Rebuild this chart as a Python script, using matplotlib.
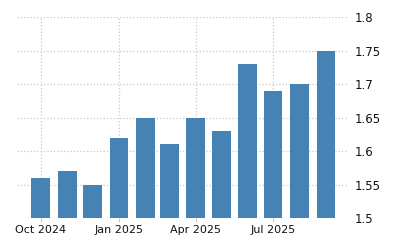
import pandas as pd
import numpy as np
import matplotlib
matplotlib.use('Agg')
import matplotlib.pyplot as plt
import matplotlib.dates as mdates

months = ['2024-10', '2024-11', '2024-12', '2025-01', '2025-02', '2025-03',
          '2025-04', '2025-05', '2025-06', '2025-07', '2025-08', '2025-09']
values = [1.56, 1.57, 1.55, 1.62, 1.65, 1.61, 1.65, 1.63, 1.73, 1.69, 1.70, 1.75]
yticks = [1.5, 1.55, 1.6, 1.65, 1.7, 1.75, 1.8]
ytick_labels = ['1.5', '1.55', '1.6', '1.65', '1.7', '1.75', '1.8']
xtick_dates = ['2024-10-01', '2025-01-01', '2025-04-01', '2025-07-01']
xtick_labels = ['Oct 2024', 'Jan 2025', 'Apr 2025', 'Jul 2025']

dates = pd.to_datetime(months)

fig = plt.figure(figsize=(4, 2.5), dpi=100)
ax = fig.add_axes([0.0425, 0.128, 0.8275, 0.804])

ax.bar(dates, values, width=22, color='#4682b4', zorder=2)

ax.set_ylim(1.5, 1.8)
ax.set_xlim(pd.Timestamp('2024-09-03'), pd.Timestamp('2025-09-27'))

ax.set_yticks(yticks)
ax.set_yticklabels(ytick_labels)
ax.yaxis.tick_right()
ax.set_xticks(pd.to_datetime(xtick_dates))
ax.set_xticklabels(xtick_labels)

for s in ax.spines.values():
    s.set_visible(False)

ax.grid(True, linestyle=':', color='#c8c8c8', linewidth=0.9, zorder=0)
ax.tick_params(axis='y', length=0, pad=5, labelsize=8.5, labelcolor='#111111')
ax.tick_params(axis='x', length=3, color='#c8c8c8', pad=2, labelsize=8, labelcolor='#111111')

plt.savefig('out.png', dpi=100)
